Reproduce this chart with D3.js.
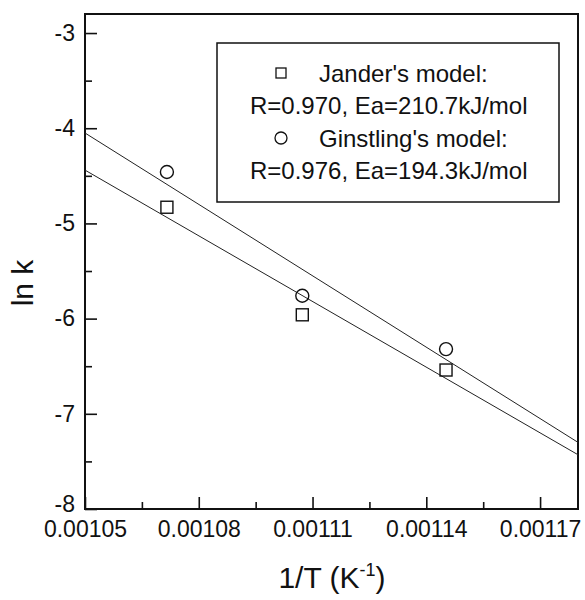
<!DOCTYPE html>
<html lang="en">
<head>
  <meta charset="UTF-8">
  <title>ln k vs 1/T</title>
  <style>
    body { margin: 0; background: #fff; }
    svg { display: block; font-family: "Liberation Sans", Arial, sans-serif; }
    .tick text { font-size: 23px; fill: #111; }
    .tick line { stroke: #111; stroke-width: 1.6px; }
    .legend text { font-size: 24px; fill: #111; }
  </style>
</head>
<body>
  <div id="chart"></div>

  <script src="https://cdn.jsdelivr.net/npm/d3@7"></script>
  <script>
    // data
    const invT = [0.0010716, 0.0011073, 0.0011452];
    const janderLnK = [-4.83, -5.96, -6.54];
    const ginstlingLnK = [-4.46, -5.76, -6.32];

    // fitted lines, end points at the plot edges
    const fitX = [0.00105, 0.00118];
    const janderFit = [-4.44, -7.43];
    const ginstlingFit = [-4.05, -7.30];

    const xTicks = [0.00105, 0.00108, 0.00111, 0.00114, 0.00117];
    const xMinor = [0.001065, 0.001095, 0.001125, 0.001155];
    const yTicks = [-8, -7, -6, -5, -4, -3];
    const yMinor = [-7.5, -6.5, -5.5, -4.5, -3.5];

    const legendRows = [
      { sym: "square", text: "Jander's model:" },
      { sym: null, text: "R=0.970, Ea=210.7kJ/mol" },
      { sym: "circle", text: "Ginstling's model:" },
      { sym: null, text: "R=0.976, Ea=194.3kJ/mol" }
    ];

    const width = 585, height = 600;
    const margin = { top: 14, right: 7, bottom: 91, left: 85 };
    const w = width - margin.left - margin.right;
    const h = height - margin.top - margin.bottom;

    const svg = d3.select("#chart").append("svg")
      .attr("width", width)
      .attr("height", height);

    const g = svg.append("g")
      .attr("transform", `translate(${margin.left},${margin.top})`);

    const x = d3.scaleLinear().domain([0.00105, 0.00118]).range([0, w]);
    const y = d3.scaleLinear().domain([-8, -2.8]).range([h, 0]);

    // axes, ticks pointing inward
    const xAxis = g.append("g")
      .attr("transform", `translate(0,${h})`)
      .call(d3.axisBottom(x).tickValues(xTicks).tickSize(-12).tickPadding(7)
        .tickFormat(d3.format(".5f")));
    xAxis.selectAll(".tick text").attr("dy", "0.9em");

    g.append("g")
      .attr("transform", `translate(0,${h})`)
      .call(d3.axisBottom(x).tickValues(xMinor).tickSize(-7).tickFormat(""));

    const yAxis = g.append("g")
      .call(d3.axisLeft(y).tickValues(yTicks).tickSize(-12).tickPadding(10)
        .tickFormat(d => String(d)));
    yAxis.selectAll(".tick")
      .filter(d => d === -8)
      .select("text").attr("dy", "0.12em");

    g.append("g")
      .call(d3.axisLeft(y).tickValues(yMinor).tickSize(-7).tickFormat(""));

    g.selectAll(".domain").remove();

    // frame
    g.append("rect")
      .attr("width", w)
      .attr("height", h)
      .attr("fill", "none")
      .attr("stroke", "#111")
      .attr("stroke-width", 2);

    // fit lines
    const line = d3.line().x(d => x(d[0])).y(d => y(d[1]));
    [ginstlingFit, janderFit].forEach(f => {
      g.append("path")
        .datum(fitX.map((v, i) => [v, f[i]]))
        .attr("d", line)
        .attr("fill", "none")
        .attr("stroke", "#222")
        .attr("stroke-width", 1);
    });

    // markers
    const sq = 12;
    g.selectAll(".jander")
      .data(invT.map((v, i) => [v, janderLnK[i]]))
      .enter().append("rect")
      .attr("x", d => x(d[0]) - sq / 2)
      .attr("y", d => y(d[1]) - sq / 2)
      .attr("width", sq)
      .attr("height", sq)
      .attr("fill", "none")
      .attr("stroke", "#111")
      .attr("stroke-width", 1.4);

    g.selectAll(".ginstling")
      .data(invT.map((v, i) => [v, ginstlingLnK[i]]))
      .enter().append("circle")
      .attr("cx", d => x(d[0]))
      .attr("cy", d => y(d[1]))
      .attr("r", 6.5)
      .attr("fill", "none")
      .attr("stroke", "#111")
      .attr("stroke-width", 1.4);

    // legend
    const legend = svg.append("g").attr("class", "legend");
    legend.append("rect")
      .attr("x", 217).attr("y", 43)
      .attr("width", 342).attr("height", 159)
      .attr("fill", "#fff")
      .attr("stroke", "#111")
      .attr("stroke-width", 1.5);

    legendRows.forEach((r, i) => {
      const cy = 73 + i * 32.5;
      if (r.sym === "square") {
        legend.append("rect")
          .attr("x", 276).attr("y", cy - 5)
          .attr("width", 10).attr("height", 10)
          .attr("fill", "none").attr("stroke", "#111").attr("stroke-width", 1.3);
      } else if (r.sym === "circle") {
        legend.append("circle")
          .attr("cx", 281).attr("cy", cy).attr("r", 6)
          .attr("fill", "none").attr("stroke", "#111").attr("stroke-width", 1.3);
      }
      legend.append("text")
        .attr("x", r.sym ? 319 : 250)
        .attr("y", cy)
        .attr("dy", "0.36em")
        .text(r.text);
    });

    // axis titles
    svg.append("text")
      .attr("transform", "translate(33,283) rotate(-90)")
      .attr("text-anchor", "middle")
      .attr("font-size", 30)
      .attr("fill", "#111")
      .text("ln k");

    const xt = svg.append("text")
      .attr("x", 332)
      .attr("y", 588)
      .attr("text-anchor", "middle")
      .attr("font-size", 30)
      .attr("fill", "#111");
    xt.append("tspan").text("1/T (K");
    xt.append("tspan").attr("font-size", 18).attr("dy", -12).text("-1");
    xt.append("tspan").attr("dy", 12).text(")");
  </script>
</body>
</html>
